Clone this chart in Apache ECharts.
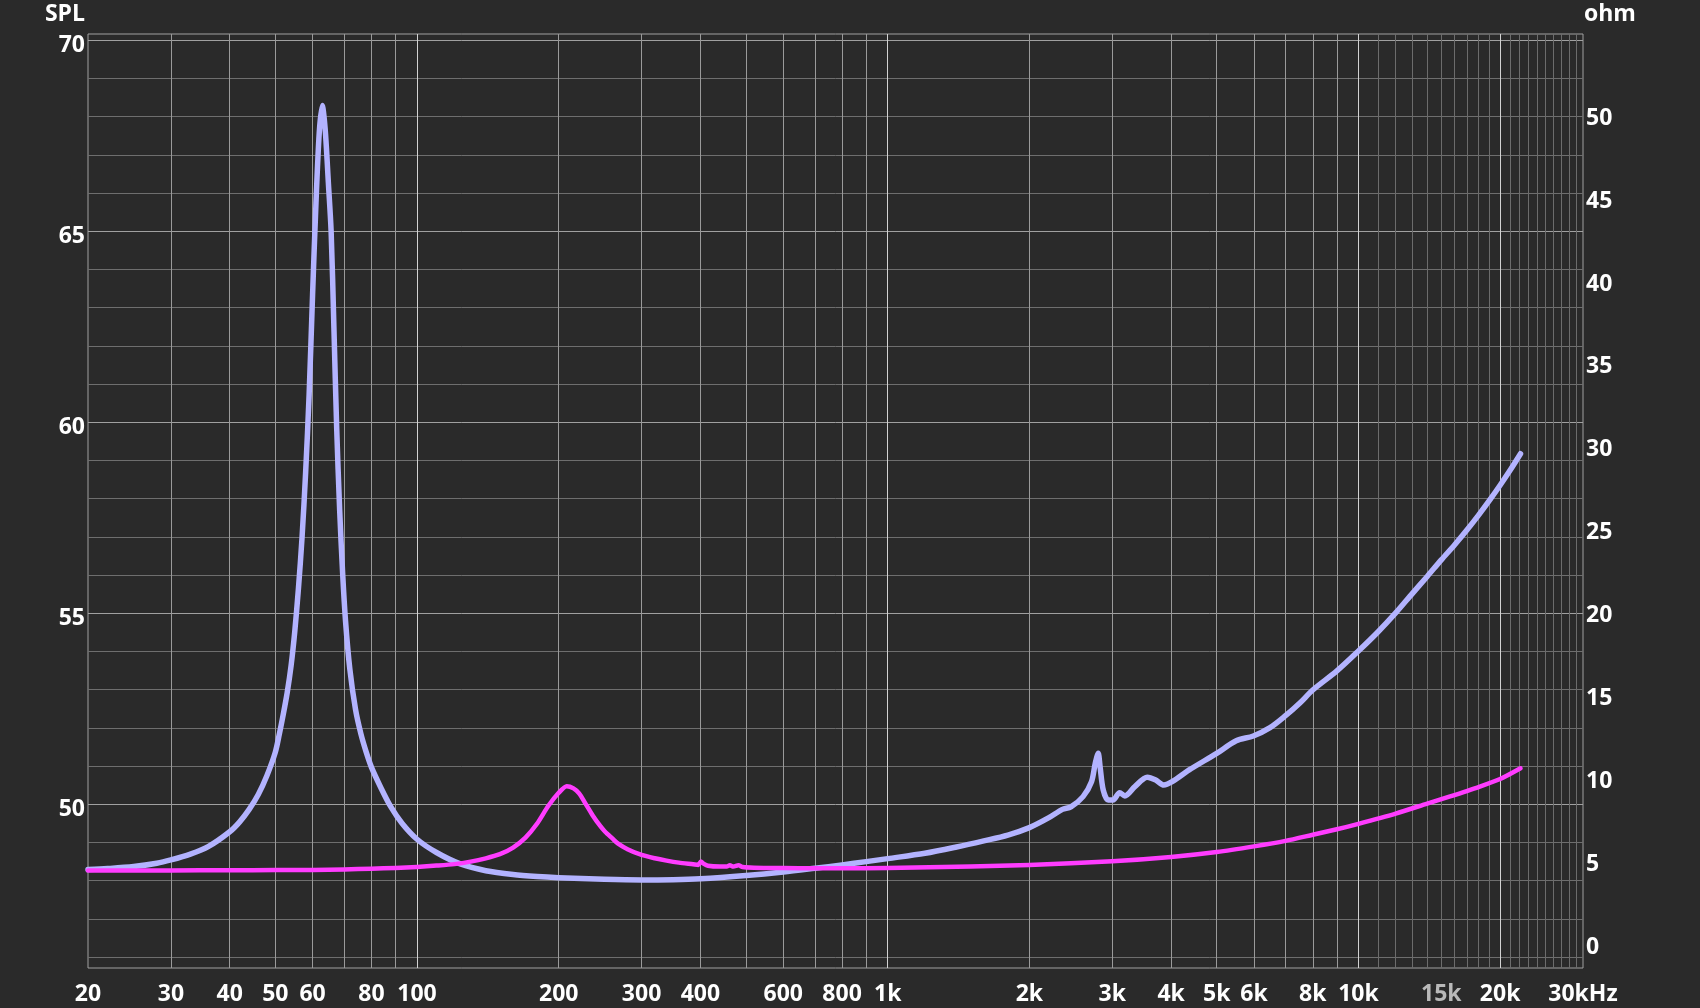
<!DOCTYPE html>
<html><head><meta charset="utf-8">
<script src="https://cdn.jsdelivr.net/npm/echarts@6/dist/echarts.min.js"></script>
<style>html,body{margin:0;padding:0;background:#2a2a2a;}#c{width:1700px;height:1008px;}</style>
</head><body><div id="c"></div>
<script>
// ---- data ----
const blueFreq = [20,22,25,28,30,33,36,40,42,44,46,48,50,51,52,53,54,55,56,57,58,59,60,61,62,62.9,63.8,64.8,65.7,66.6,67.5,68.5,69.5,70.5,72,74,76,78,80,84,88,93,100,110,123.6,140,160,180,200,250,300,350,400,500,600,700,800,900,1000,1200,1400,1600,1800,2000,2200,2350,2450,2600,2710,2760,2800,2826,2870,2940,3010,3110,3190,3350,3560,3710,3860,4020,4370,5000,5500,5980,6490,7000,7500,8000,9000,10000,11000,12000,13000,14000,15000,16000,17000,18000,19000,20000,21000,22100];
const blueOhm = [4.32,4.38,4.5,4.7,4.9,5.25,5.7,6.6,7.2,7.95,8.85,10.0,11.4,12.5,13.7,15.0,16.6,18.7,21.3,24.4,28.3,33.0,39.0,44.5,48.8,50.4,49.0,45.8,42.8,37.0,31.0,26.0,22.2,19.3,16.4,14.0,12.5,11.4,10.5,9.2,8.1,7.1,6.15,5.35,4.66,4.25,4.02,3.9,3.83,3.73,3.69,3.71,3.77,3.97,4.18,4.4,4.6,4.8,4.98,5.3,5.68,6.05,6.4,6.85,7.45,7.95,8.1,8.72,9.62,10.73,11.33,10.52,9.12,8.52,8.52,8.96,8.76,9.32,9.89,9.72,9.42,9.62,10.33,11.33,12.09,12.38,12.88,13.6,14.35,15.15,16.3,17.5,18.65,19.8,20.95,22.0,23.0,23.9,24.8,25.7,26.6,27.5,28.4,29.4];
const magentaFreq = [20,30,40,50,60,70,80,90,100,110,120,130,140,150,160,170,180,190,200,208,215,221,228,236,245,251,260,267,280,300,320,339,360,386,396,401,406,415,440,455,462,470,482,492,520,600,700,800,1000,1500,2000,3000,4000,5000,6000,7000,8000,9000,10000,12000,14000,15600,18000,20000,22100];
const magentaOhm = [4.27,4.27,4.28,4.29,4.3,4.33,4.37,4.42,4.48,4.56,4.65,4.8,5.0,5.25,5.65,6.25,7.1,8.15,8.95,9.35,9.22,8.92,8.3,7.6,6.95,6.6,6.2,5.9,5.55,5.2,5.0,4.86,4.74,4.64,4.6,4.8,4.68,4.55,4.5,4.5,4.58,4.5,4.58,4.47,4.43,4.41,4.4,4.4,4.42,4.5,4.6,4.82,5.08,5.38,5.72,6.05,6.42,6.75,7.08,7.7,8.3,8.72,9.3,9.78,10.43];

const xLabelValues = [20,30,40,50,60,80,100,200,300,400,600,800,1000,2000,3000,4000,5000,6000,8000,10000,15000,20000,30000];
const xLabelTexts = ['20','30','40','50','60','80','100','200','300','400','600','800','1k','2k','3k','4k','5k','6k','8k','10k','15k','20k','30kHz'];
const xGridNormal = [30,40,50,60,70,80,90,200,300,400,500,600,700,800,900,2000,3000,4000,5000,6000,7000,8000,9000];
const xGridDim = [11000,12000,13000,14000,15000,16000,17000,18000,19000,21000,22000,23000,24000,25000,26000,27000,28000,29000];
const xGridBright = [100,1000,10000,20000];
const splMajor = [50,55,60,65,70];
const splMinor = [46,47,48,49,51,52,53,54,56,57,58,59,61,62,63,64,66,67,68,69];
const ohmTicks = [0,5,10,15,20,25,30,35,40,45,50];

const F_MIN = 20, F_MAX = 30000;
const SPL_MIN = 45.714, SPL_MAX = 70.165;
const OHM_MIN = -1.616, OHM_MAX = 54.717;

// ---- chart ----
const font = {fontFamily: 'Open Sans', fontWeight: 'bold', fontSize: 23, color: '#ffffff'};
const pairs = (fs, vs) => fs.map((f, i) => [f, vs[i]]);

function gridX(values, color, labels) {
  return {
    type: 'log', logBase: 10, min: F_MIN, max: F_MAX, gridIndex: 0, position: 'bottom',
    axisLine: {show: false}, axisTick: {show: false, customValues: values},
    splitLine: {show: true, lineStyle: {color: color, width: 1}},
    minorTick: {show: false}, minorSplitLine: {show: false},
    axisLabel: labels ? labels : {show: false}
  };
}

const chart = echarts.init(document.getElementById('c'), null, {renderer: 'canvas'});
chart.setOption({
  animation: false,
  backgroundColor: '#2a2a2a',
  grid: {left: 88, top: 34, width: 1495, height: 934, show: true, borderColor: '#a0a0a0', borderWidth: 1, backgroundColor: 'transparent', containLabel: false},
  xAxis: [
    gridX(xGridDim, '#6c6c6c'),
    gridX(xGridNormal, '#9a9a9a', {
      show: true, customValues: xLabelValues, margin: 15, hideOverlap: false,
      showMinLabel: true, showMaxLabel: true,
      fontFamily: font.fontFamily, fontWeight: font.fontWeight, fontSize: font.fontSize,
      color: (v) => (Math.abs(v - 15000) < 1 ? '#b9b9b9' : '#ffffff'),
      formatter: (v) => { const i = xLabelValues.findIndex(x => Math.abs(x - v) < 1e-6 * x); return i >= 0 ? xLabelTexts[i] : ''; }
    }),
    gridX(xGridBright, '#d2d2d2')
  ],
  yAxis: [
    {
      type: 'value', position: 'left', min: SPL_MIN, max: SPL_MAX,
      name: 'SPL', nameLocation: 'end', nameGap: 20,
      nameTextStyle: Object.assign({align: 'right', verticalAlign: 'middle', padding: [0, 3, 0, 0]}, font),
      axisLine: {show: false}, axisTick: {show: false, customValues: splMajor},
      splitLine: {show: true, lineStyle: {color: '#a0a0a0', width: 1}},
      axisLabel: Object.assign({show: true, customValues: splMajor, margin: 3, verticalAlign: 'top', lineHeight: 11, hideOverlap: false, showMinLabel: true, showMaxLabel: true}, font)
    },
    {
      type: 'value', position: 'right', min: OHM_MIN, max: OHM_MAX,
      name: 'ohm', nameLocation: 'end', nameGap: 20,
      nameTextStyle: Object.assign({align: 'left', verticalAlign: 'middle', padding: [0, 0, 0, 1]}, font),
      axisLine: {show: false}, axisTick: {show: false, customValues: ohmTicks},
      splitLine: {show: false},
      axisLabel: Object.assign({show: true, customValues: ohmTicks, margin: 3, verticalAlign: 'top', lineHeight: 12, hideOverlap: false, showMinLabel: true, showMaxLabel: true}, font)
    },
    {
      type: 'value', position: 'left', min: SPL_MIN, max: SPL_MAX,
      axisLine: {show: false}, axisTick: {show: false, customValues: splMinor},
      splitLine: {show: true, lineStyle: {color: '#6e6e6e', width: 1}},
      axisLabel: {show: false}
    }
  ],
  series: [
    {
      name: 'impedance A', type: 'line', xAxisIndex: 1, yAxisIndex: 1,
      data: pairs(blueFreq, blueOhm), showSymbol: false, smooth: 0.3,
      lineStyle: {color: '#b3b3ff', width: 5.5, cap: 'round', join: 'round'}, z: 3
    },
    {
      name: 'impedance B', type: 'line', xAxisIndex: 1, yAxisIndex: 1,
      data: pairs(magentaFreq, magentaOhm), showSymbol: false, smooth: 0.25,
      lineStyle: {color: '#ff3cff', width: 4.5, cap: 'round', join: 'round'}, z: 4
    }
  ]
});
</script></body></html>
